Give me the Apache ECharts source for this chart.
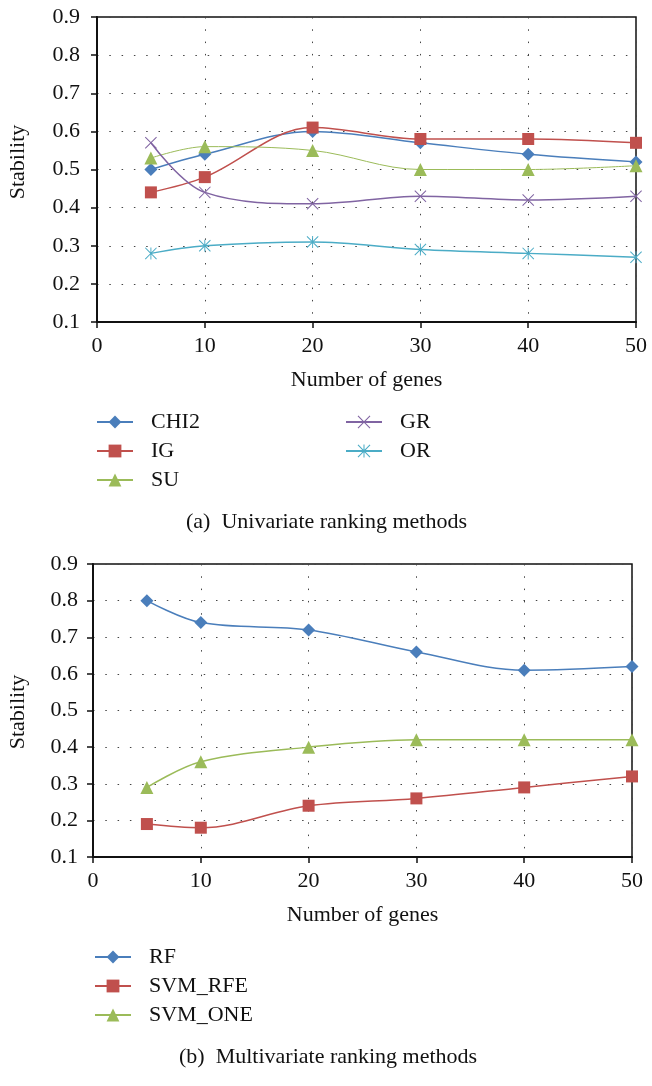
<!DOCTYPE html>
<html>
<head>
<meta charset="utf-8">
<script src="https://cdn.jsdelivr.net/npm/echarts@6/dist/echarts.min.js"></script>
<style>html,body{margin:0;padding:0;background:#fff}#c{width:652px;height:1086px}</style>
</head>
<body>
<div id="c"></div>
<script>
const genes = [5, 10, 20, 30, 40, 50];
const xTicks = [0, 10, 20, 30, 40, 50];
const yTicks = [0.1, 0.2, 0.3, 0.4, 0.5, 0.6, 0.7, 0.8, 0.9];

// (a) Univariate ranking methods
const CHI2 = [0.50, 0.54, 0.60, 0.57, 0.54, 0.52];
const IG   = [0.44, 0.48, 0.61, 0.58, 0.58, 0.57];
const SU   = [0.53, 0.56, 0.55, 0.50, 0.50, 0.51];
const GR   = [0.57, 0.44, 0.41, 0.43, 0.42, 0.43];
const OR   = [0.28, 0.30, 0.31, 0.29, 0.28, 0.27];

// (b) Multivariate ranking methods
const RF      = [0.80, 0.74, 0.72, 0.66, 0.61, 0.62];
const SVM_RFE = [0.19, 0.18, 0.24, 0.26, 0.29, 0.32];
const SVM_ONE = [0.29, 0.36, 0.40, 0.42, 0.42, 0.42];

const FONT = '"Liberation Serif", "DejaVu Serif", serif';
const FS = 22;
const C = {blue:'#4a7ebb', red:'#c0504d', green:'#9bbb59', purple:'#8064a2', cyan:'#4bacc6'};

const crossPath = 'path://M0,1.2L1.2,0L10,8.8L18.8,0L20,1.2L11.2,10L20,18.8L18.8,20L10,11.2L1.2,20L0,18.8L8.8,10Z';
const starPath = 'path://M0,1.2L1.2,0L10,8.8L18.8,0L20,1.2L11.2,10L20,18.8L18.8,20L10,11.2L1.2,20L0,18.8L8.8,10Z M9.2,0L10.8,0L10.8,20L9.2,20Z';

function pairs(arr){ return genes.map((g,i)=>[g, arr[i]]); }

function xAxisFor(gi){
  return {
    type:'value', gridIndex:gi, min:0, max:50, interval:10,
    name:'Number of genes', nameLocation:'middle', nameGap:47,
    nameTextStyle:{fontFamily:FONT, fontSize:FS, color:'#111'},
    axisLine:{show:true, onZero:false, lineStyle:{color:'#111', width:2}},
    axisTick:{show:true, inside:false, length:6, lineStyle:{color:'#111', width:1.5}},
    axisLabel:{fontFamily:FONT, fontSize:FS, color:'#111', margin:13},
    splitLine:{show:true, lineStyle:{color:'#444', width:1, type:[1.5,10.8]}}
  };
}
function yAxisFor(gi, margin){
  return {
    type:'value', gridIndex:gi, min:0.1, max:0.9, interval:0.1,
    axisLine:{show:true, onZero:false, lineStyle:{color:'#111', width:2}},
    axisTick:{show:true, inside:false, length:6, lineStyle:{color:'#111', width:1.5}},
    axisLabel:{fontFamily:FONT, fontSize:FS, color:'#111', margin:margin, formatter:v=>v.toFixed(1)},
    splitLine:{show:true, lineStyle:{color:'#444', width:1, type:[1.5,10.8]}}
  };
}

function ser(name, data, color, symbol, size, gi, lw){
  return {
    name, type:'line', xAxisIndex:gi, yAxisIndex:gi, data:pairs(data),
    smooth:0.35, symbol, symbolSize:size, showAllSymbol:true,
    lineStyle:{color, width:lw}, itemStyle:{color},
    emphasis:{disabled:true}, animation:false, z:3
  };
}

const legendText = {fontFamily:FONT, fontSize:FS, color:'#111', padding:[0,0,0,13]};
const legendBase = {orient:'vertical', padding:0, itemWidth:36, itemHeight:16, itemGap:7, textStyle:legendText, selectedMode:false};

const option = {
  animation:false,
  grid:[
    {left:97, top:17, right:16, height:305, show:true, borderColor:'#111', borderWidth:1.5, backgroundColor:'transparent'},
    {left:93, top:564, right:20, height:293, show:true, borderColor:'#111', borderWidth:1.5, backgroundColor:'transparent'}
  ],
  xAxis:[xAxisFor(0), xAxisFor(1)],
  yAxis:[yAxisFor(0, 17), yAxisFor(1, 15)],
  legend:[
    Object.assign({data:['CHI2','IG','SU'], left:96, top:411}, legendBase),
    Object.assign({data:['GR','OR'], left:345, top:411}, legendBase),
    Object.assign({data:['RF','SVM_RFE','SVM_ONE'], left:94, top:946}, legendBase)
  ],
  graphic:[
    {type:'text', x:18, y:162, rotation:Math.PI/2, style:{text:'Stability', font:FS + 'px ' + FONT, fill:'#111', align:'center', verticalAlign:'middle'}},
    {type:'text', x:18, y:712, rotation:Math.PI/2, style:{text:'Stability', font:FS + 'px ' + FONT, fill:'#111', align:'center', verticalAlign:'middle'}},
    {type:'text', x:186, y:522, style:{text:'(a)  Univariate ranking methods', font:FS + 'px ' + FONT, fill:'#111', verticalAlign:'middle'}},
    {type:'text', x:179, y:1057, style:{text:'(b)  Multivariate ranking methods', font:FS + 'px ' + FONT, fill:'#111', verticalAlign:'middle'}}
  ],
  series:[
    ser('CHI2', CHI2, C.blue, 'diamond', 13, 0, 1.5),
    ser('IG', IG, C.red, 'rect', 12, 0, 1.5),
    ser('SU', SU, C.green, 'triangle', 13, 0, 1),
    ser('GR', GR, C.purple, crossPath, 12, 0, 1.5),
    ser('OR', OR, C.cyan, starPath, 12, 0, 1.5),
    ser('RF', RF, C.blue, 'diamond', 13, 1, 1.5),
    ser('SVM_RFE', SVM_RFE, C.red, 'rect', 12, 1, 1.5),
    ser('SVM_ONE', SVM_ONE, C.green, 'triangle', 13, 1, 1.5)
  ]
};

const chart = echarts.init(document.getElementById('c'), null, {renderer:'canvas'});
chart.setOption(option);
</script>
</body>
</html>
